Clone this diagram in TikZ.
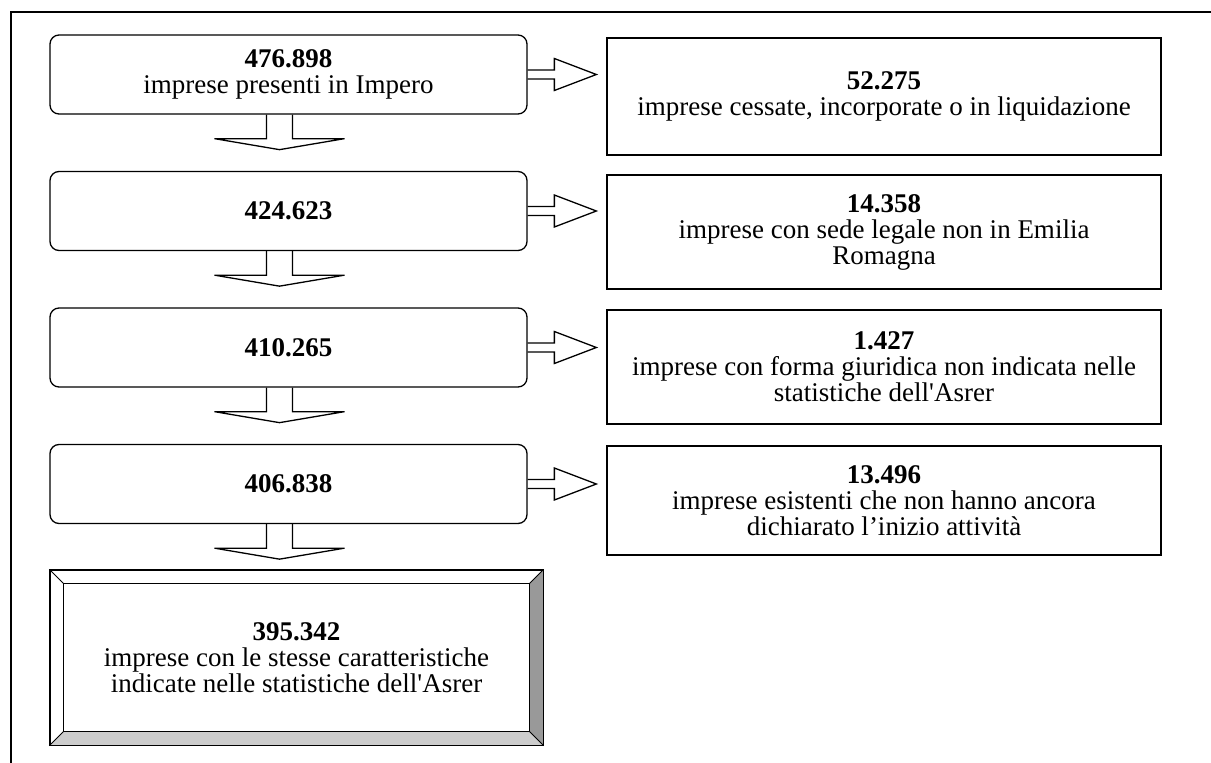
\documentclass[tikz,border=0pt]{standalone}
\usepackage{fontspec}
\setmainfont{Liberation Serif}
\usetikzlibrary{calc}

\begin{document}
\begin{tikzpicture}[x=1pt,y=-1pt,
    txt/.style={align=center,font=\fontsize{27}{26}\selectfont,inner sep=0pt},
    stepround/.style={txt,shape=rectangle,rounded corners=9pt,draw=black,line width=1.3pt,minimum width=477pt,minimum height=79pt},
    outbox/.style={txt,shape=rectangle,draw=black,line width=1.3pt,minimum width=554pt},
    finalbox/.style={txt,shape=rectangle,draw=black,line width=1.3pt,minimum width=493pt,minimum height=175pt},
    blockdown/.style={line width=1.3pt,to path={let \p1=(\tikztostart) in
        (\x1-13pt,\y1) -- (\x1-13pt,\y1-24pt) -- (\x1-65pt,\y1-24pt) -- (\x1,\y1-35pt)
        -- (\x1+65pt,\y1-24pt) -- (\x1+13pt,\y1-24pt) -- (\x1+13pt,\y1)}},
    blockright/.style={line width=1.3pt,to path={let \p1=(\tikztostart),\p2=(\tikztotarget) in
        (\x1,\y1+4.5pt) -- (\x2-52pt,\y1+4.5pt) -- (\x2-52pt,\y1+16pt) -- (\x2-10pt,\y1)
        -- (\x2-52pt,\y1-16pt) -- (\x2-52pt,\y1-4.5pt) -- (\x1,\y1-4.5pt)}}]

    \useasboundingbox (0,0) rectangle (1211,763);
    \draw[line width=2pt] (11,763) -- (11,12) -- (1211,12);

    % left column
    \node[stepround] (b1) at (288.5,74.5) {\textbf{476.898}\\imprese presenti in Impero};
    \node[stepround] (b2) at (288.5,211)  {\textbf{424.623}};
    \node[stepround] (b3) at (288.5,347.5) {\textbf{410.265}};
    \node[stepround] (b4) at (288.5,484)  {\textbf{406.838}};

    \node[finalbox] (fin) at (296.5,657.5) {\textbf{395.342}\\imprese con le stesse caratteristiche\\indicate nelle statistiche dell\textquotesingle Asrer};

    % right column
    \node[outbox,minimum height=117pt] (r1) at (884,96.5)  {\textbf{52.275}\\imprese cessate, incorporate o in liquidazione};
    \node[outbox,minimum height=114pt] (r2) at (884,232)   {\textbf{14.358}\\imprese con sede legale non in Emilia\\Romagna};
    \node[outbox,minimum height=114pt] (r3) at (884,367)   {\textbf{1.427}\\imprese con forma giuridica non indicata nelle\\statistiche dell\textquotesingle Asrer};
    \node[outbox,minimum height=109pt] (r4) at (884,500.5) {\textbf{13.496}\\imprese esistenti che non hanno ancora\\dichiarato l’inizio attività};

    % bevel of the last box
    \coordinate (fin-nw) at ($(fin.north west)+(14pt,-14pt)$);
    \coordinate (fin-ne) at ($(fin.north east)+(-14pt,-14pt)$);
    \coordinate (fin-se) at ($(fin.south east)+(-14pt,14pt)$);
    \coordinate (fin-sw) at ($(fin.south west)+(14pt,14pt)$);
    \fill[black!40] (fin.north east) -- (fin.south east) -- (fin-se) -- (fin-ne) -- cycle;
    \fill[black!20] (fin.south west) -- (fin.south east) -- (fin-se) -- (fin-sw) -- cycle;
    \draw[line width=1.3pt] (fin-nw) rectangle (fin-se);
    \draw[line width=1pt] (fin.north west) -- (fin-nw);
    \draw[line width=1pt] (fin.north east) -- (fin-ne);
    \draw[line width=1pt] (fin.south east) -- (fin-se);
    \draw[line width=1pt] (fin.south west) -- (fin-sw);
    \draw[line width=1.3pt] (fin.north west) rectangle (fin.south east);

    % arrows down
    \draw[blockdown] ([xshift=-9pt]b1.south) to (b2);
    \draw[blockdown] ([xshift=-9pt]b2.south) to (b3);
    \draw[blockdown] ([xshift=-9pt]b3.south) to (b4);
    \draw[blockdown] ([xshift=-9pt]b4.south) to (fin);

    % arrows right
    \draw[blockright] (b1.east) to (b1.east -| r1.west);
    \draw[blockright] (b2.east) to (b2.east -| r2.west);
    \draw[blockright] (b3.east) to (b3.east -| r3.west);
    \draw[blockright] (b4.east) to (b4.east -| r4.west);

\end{tikzpicture}
\end{document}
